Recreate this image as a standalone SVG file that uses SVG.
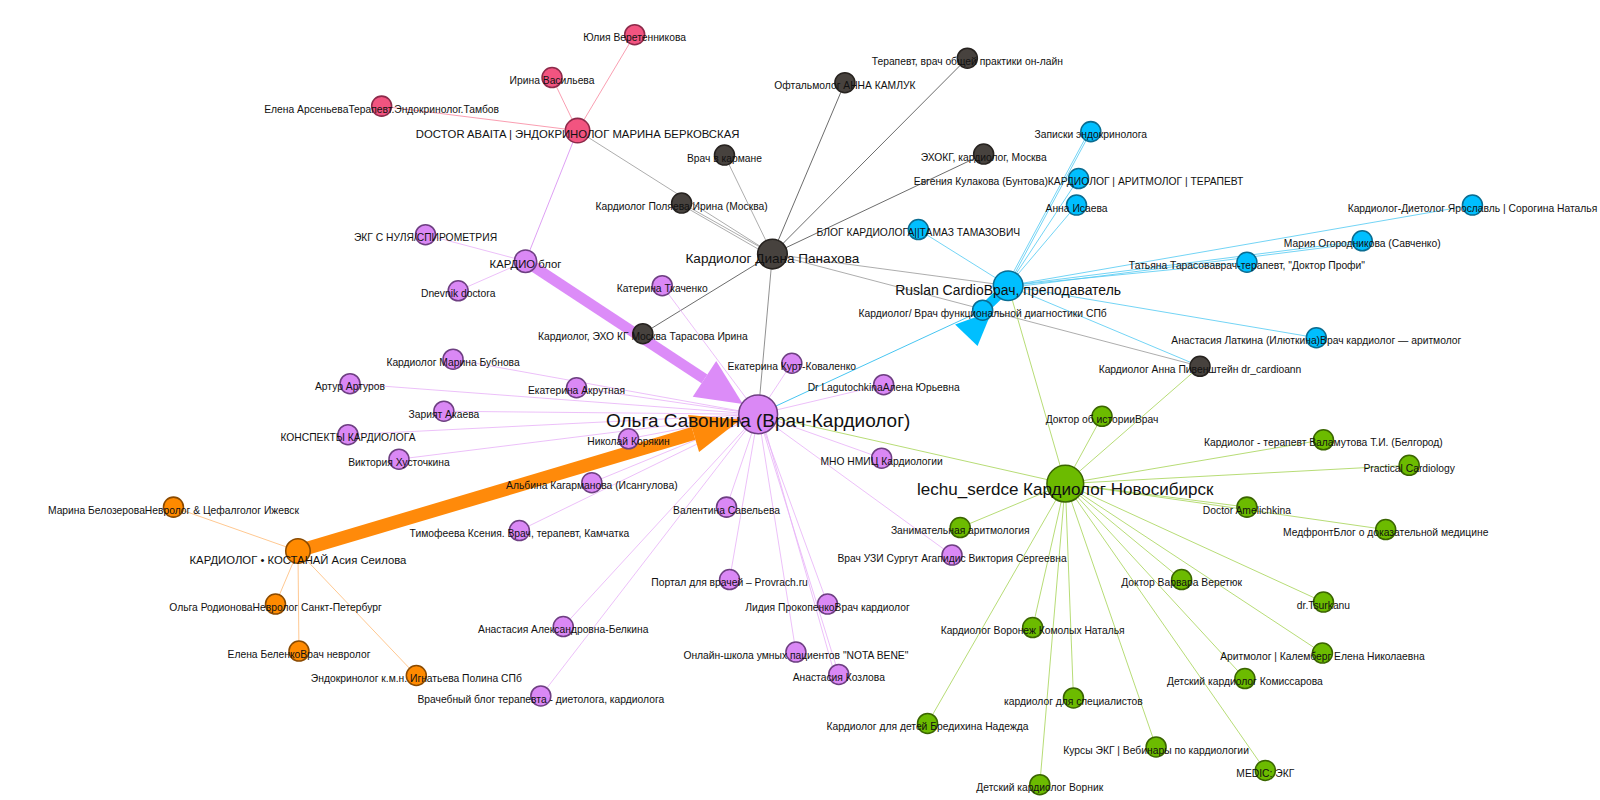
<svg xmlns="http://www.w3.org/2000/svg" width="1600" height="800" viewBox="0 0 1600 800">
<style>
.e{fill:none;stroke-width:0.8}
.ep{stroke:#f7879f}
.eg{stroke:#9a9a9a}
.ed{stroke:#4a4a4a}
.ec{stroke:#52caf3}
.ev{stroke:#e8b2f8}
.en{stroke:#a6d456}
.eo{stroke:#ffbb77}
circle{stroke-width:1.5}
.np{fill:#f25480;stroke:#8c2a4a}
.nd{fill:#47423e;stroke:#26221f}
.nc{fill:#00bfff;stroke:#0a6c91}
.nv{fill:#da88f5;stroke:#6e3f82}
.ng{fill:#6cbb00;stroke:#3a6500}
.no{fill:#ff8a00;stroke:#8a4a00}
text{font-family:"Liberation Sans",Arial,sans-serif;fill:#111;text-anchor:middle}
.s{font-size:10.1px}
.m{font-size:11.1px}
</style>
<rect width="1600" height="800" fill="#ffffff"/>
<g transform="scale(1.0204)">
<g id="connectors">
<line class="e ep" x1="622" y1="34" x2="566" y2="128"/>
<line class="e ep" x1="541" y1="76" x2="566" y2="128"/>
<line class="e ep" x1="374" y1="104" x2="566" y2="128"/>
<line class="e" stroke="#d68af2" x1="566" y1="128" x2="515" y2="256"/>
<line class="e eg" x1="566" y1="128" x2="757" y2="249"/>
<line class="e eg" x1="710" y1="152" x2="757" y2="249"/>
<line class="e eg" x1="668" y1="199" x2="757" y2="249"/>
<line class="e eg" x1="670" y1="202" x2="755" y2="251"/>
<line class="e ed" x1="828" y1="81" x2="757" y2="249"/>
<line class="e ed" x1="948" y1="57" x2="757" y2="249"/>
<line class="e ed" x1="964" y1="151" x2="757" y2="249"/>
<line class="e ed" x1="630" y1="327" x2="757" y2="249"/>
<line class="e" stroke="#777" x1="757" y1="249" x2="743" y2="406"/>
<line class="e eg" x1="757" y1="249" x2="988" y2="280"/>
<line class="e eg" x1="757" y1="249" x2="1176" y2="359"/>
<line class="e ec" x1="988" y1="280" x2="1069" y2="129"/>
<line class="e ec" x1="986" y1="280" x2="1066" y2="131"/>
<line class="e ec" x1="988" y1="280" x2="1057" y2="175"/>
<line class="e ec" x1="988" y1="280" x2="1055" y2="201"/>
<line class="e ec" x1="988" y1="280" x2="900" y2="225"/>
<line class="e ec" x1="988" y1="280" x2="1443" y2="201"/>
<line class="e ec" x1="988" y1="280" x2="1335" y2="236"/>
<line class="e ec" x1="988" y1="282" x2="1335" y2="238"/>
<line class="e ec" x1="988" y1="280" x2="1222" y2="257"/>
<line class="e ec" x1="988" y1="280" x2="1290" y2="331"/>
<line class="e ec" x1="988" y1="280" x2="1176" y2="359"/>
<line class="e" stroke="#1cb8ee" x1="963" y1="304" x2="743" y2="406"/>
<line class="e ev" x1="515" y1="256" x2="417" y2="230"/>
<line class="e ev" x1="515" y1="256" x2="449" y2="285"/>
<line class="e ev" x1="649" y1="280" x2="743" y2="406"/>
<line class="e ev" x1="444" y1="352" x2="743" y2="406"/>
<line class="e ev" x1="343" y1="376" x2="743" y2="406"/>
<line class="e ev" x1="565" y1="380" x2="743" y2="406"/>
<line class="e ev" x1="435" y1="403" x2="743" y2="406"/>
<line class="e ev" x1="341" y1="426" x2="743" y2="406"/>
<line class="e ev" x1="391" y1="450" x2="743" y2="406"/>
<line class="e ev" x1="616" y1="430" x2="743" y2="406"/>
<line class="e ev" x1="580" y1="473" x2="743" y2="406"/>
<line class="e ev" x1="712" y1="497" x2="743" y2="406"/>
<line class="e ev" x1="509" y1="520" x2="743" y2="406"/>
<line class="e ev" x1="715" y1="568" x2="743" y2="406"/>
<line class="e ev" x1="811" y1="592" x2="743" y2="406"/>
<line class="e ev" x1="552" y1="614" x2="743" y2="406"/>
<line class="e ev" x1="780" y1="639" x2="743" y2="406"/>
<line class="e ev" x1="822" y1="661" x2="743" y2="406"/>
<line class="e ev" x1="818" y1="661" x2="746" y2="407"/>
<line class="e ev" x1="530" y1="682" x2="743" y2="406"/>
<line class="e ev" x1="776" y1="356" x2="743" y2="406"/>
<line class="e ev" x1="866" y1="377" x2="743" y2="406"/>
<line class="e ev" x1="864" y1="449" x2="743" y2="406"/>
<line class="e ev" x1="933" y1="544" x2="743" y2="406"/>
<line class="e eo" x1="292" y1="540" x2="170" y2="497"/>
<line class="e eo" x1="292" y1="540" x2="270" y2="592"/>
<line class="e eo" x1="292" y1="540" x2="293" y2="638"/>
<line class="e eo" x1="292" y1="540" x2="408" y2="662"/>
<line class="e en" x1="743" y1="406" x2="1044" y2="474"/>
<line class="e en" x1="988" y1="280" x2="1044" y2="474"/>
<line class="e en" x1="1176" y1="359" x2="1044" y2="474"/>
<line class="e en" x1="1044" y1="474" x2="1080" y2="408"/>
<line class="e en" x1="1044" y1="474" x2="1297" y2="431"/>
<line class="e en" x1="1044" y1="474" x2="1381" y2="456"/>
<line class="e en" x1="1044" y1="474" x2="1222" y2="497"/>
<line class="e en" x1="1044" y1="474" x2="1358" y2="519"/>
<line class="e en" x1="1044" y1="474" x2="941" y2="517"/>
<line class="e en" x1="1044" y1="474" x2="1158" y2="568"/>
<line class="e en" x1="1044" y1="474" x2="1297" y2="590"/>
<line class="e en" x1="1044" y1="474" x2="1012" y2="615"/>
<line class="e en" x1="1044" y1="474" x2="1296" y2="640"/>
<line class="e en" x1="1044" y1="474" x2="1220" y2="665"/>
<line class="e en" x1="1044" y1="474" x2="1052" y2="684"/>
<line class="e en" x1="1044" y1="474" x2="909" y2="709"/>
<line class="e en" x1="1044" y1="474" x2="1133" y2="732"/>
<line class="e en" x1="1044" y1="474" x2="1240" y2="755"/>
<line class="e en" x1="1044" y1="474" x2="1019" y2="769"/>
<line stroke="#dc8cf8" stroke-width="10.5" x1="515" y1="256" x2="690.4" y2="371.3"/>
<polygon fill="#dc8cf8" points="678.9,388.8 701.9,353.8 728,396"/>
<line stroke="#ff8a0a" stroke-width="13" x1="292" y1="540" x2="679.7" y2="424.8"/>
<polygon fill="#ff8a0a" points="674.3,406.6 685.1,443 725.7,411.1"/>
<line stroke="#00bfff" stroke-width="9.8" x1="988" y1="280" x2="963" y2="304"/>
<polygon fill="#00bfff" points="936,318 972,305 958,339"/>
</g>
<g id="n-yulia"><circle class="np" cx="622" cy="34" r="9.8"/><text class="s" x="622" y="40.5">Юлия Веретенникова</text></g>
<g id="n-irina"><circle class="np" cx="541" cy="76" r="9.8"/><text class="s" x="541" y="82.5">Ирина Васильева</text></g>
<g id="n-arsenyeva"><circle class="np" cx="374" cy="104" r="9.8"/><text class="s" x="374" y="110.5">Елена АрсеньеваТерапевт.Эндокринолог.Тамбов</text></g>
<g id="n-abaita"><circle class="np" cx="566" cy="128" r="12" stroke-width="2"/><text class="m" x="566" y="135">DOCTOR ABAITA | ЭНДОКРИНОЛОГ МАРИНА БЕРКОВСКАЯ</text></g>
<g id="n-terapevt"><circle class="nd" cx="948" cy="57" r="9.8"/><text class="s" x="948" y="63.5">Терапевт, врач общей практики он-лайн</text></g>
<g id="n-kamluk"><circle class="nd" cx="828" cy="81" r="9.8"/><text class="s" x="828" y="87.5">Офтальмолог АННА КАМЛУК</text></g>
<g id="n-karman"><circle class="nd" cx="710" cy="152" r="9.8"/><text class="s" x="710" y="158.5">Врач в кармане</text></g>
<g id="n-polyaeva"><circle class="nd" cx="668" cy="199" r="9.8"/><text class="s" x="668" y="205.5">Кардиолог Поляева Ирина (Москва)</text></g>
<g id="n-echokg"><circle class="nd" cx="964" cy="151" r="9.8"/><text class="s" x="964" y="157.5">ЭХОКГ, кардиолог, Москва</text></g>
<g id="n-tarasova"><circle class="nd" cx="630" cy="327" r="9.8"/><text class="s" x="630" y="333.5">Кардиолог, ЭХО КГ Москва Тарасова Ирина</text></g>
<g id="n-piven"><circle class="nd" cx="1176" cy="359" r="9.8"/><text class="s" x="1176" y="365.5">Кардиолог Анна Пивенштейн dr_cardioann</text></g>
<g id="n-zapiski"><circle class="nc" cx="1069" cy="129" r="9.8"/><text class="s" x="1069" y="135.5">Записки эндокринолога</text></g>
<g id="n-kulakova"><circle class="nc" cx="1057" cy="175" r="9.8"/><text class="s" x="1057" y="181.5">Евгения Кулакова (Бунтова)КАРДИОЛОГ | АРИТМОЛОГ | ТЕРАПЕВТ</text></g>
<g id="n-isaeva"><circle class="nc" cx="1055" cy="201" r="9.8"/><text class="s" x="1055" y="207.5">Анна Исаева</text></g>
<g id="n-tamaz"><circle class="nc" cx="900" cy="225" r="9.8"/><text class="s" x="900" y="231.5">БЛОГ КАРДИОЛОГА||ТАМАЗ ТАМАЗОВИЧ</text></g>
<g id="n-sorogina"><circle class="nc" cx="1443" cy="201" r="9.8"/><text class="s" x="1443" y="207.5">Кардиолог-Диетолог Ярославль | Сорогина Наталья</text></g>
<g id="n-ogorodnikova"><circle class="nc" cx="1335" cy="236" r="9.8"/><text class="s" x="1335" y="242.5">Мария Огородникова (Савченко)</text></g>
<g id="n-tatyana"><circle class="nc" cx="1222" cy="257" r="9.8"/><text class="s" x="1222" y="263.5">Татьяна Тарасоваврач-терапевт, "Доктор Профи"</text></g>
<g id="n-latkina"><circle class="nc" cx="1290" cy="331" r="9.8"/><text class="s" x="1290" y="337.5">Анастасия Латкина (Илюткина)Врач кардиолог — аритмолог</text></g>
<g id="n-funkdiag"><circle class="nc" cx="963" cy="304" r="9.8"/><text class="s" x="963" y="310.5">Кардиолог/ Врач функциональной диагностики СПб</text></g>
<g id="n-ruslan"><circle class="nc" cx="988" cy="280" r="14.5" stroke-width="2.2"/><text x="988" y="289" font-size="13.7">Ruslan CardioВрач, преподаватель</text></g>
<g id="n-diana"><circle class="nd" cx="757" cy="249" r="14.5" stroke-width="2"/><text x="757" y="258" font-size="13.3">Кардиолог Диана Панахова</text></g>
<g id="n-ekgsnulya"><circle class="nv" cx="417" cy="230" r="9.8"/><text class="s" x="417" y="236.5">ЭКГ С НУЛЯ/СПИРОМЕТРИЯ</text></g>
<g id="n-kardioblog"><circle class="nv" cx="515" cy="256" r="11" stroke-width="1.8"/><text class="m" x="515" y="263">КАРДИО блог</text></g>
<g id="n-dnevnik"><circle class="nv" cx="449" cy="285" r="9.8"/><text class="s" x="449" y="291.5">Dnevnik doctora</text></g>
<g id="n-tkachenko"><circle class="nv" cx="649" cy="280" r="9.8"/><text class="s" x="649" y="286.5">Катерина Ткаченко</text></g>
<g id="n-bubnova"><circle class="nv" cx="444" cy="352" r="9.8"/><text class="s" x="444" y="358.5">Кардиолог Марина Бубнова</text></g>
<g id="n-arturov"><circle class="nv" cx="343" cy="376" r="9.8"/><text class="s" x="343" y="382.5">Артур Артуров</text></g>
<g id="n-akrutnaya"><circle class="nv" cx="565" cy="380" r="9.8"/><text class="s" x="565" y="386.5">Екатерина Акрутная</text></g>
<g id="n-akaeva"><circle class="nv" cx="435" cy="403" r="9.8"/><text class="s" x="435" y="409.5">Зарият Акаева</text></g>
<g id="n-konspekty"><circle class="nv" cx="341" cy="426" r="9.8"/><text class="s" x="341" y="432.5">КОНСПЕКТЫ КАРДИОЛОГА</text></g>
<g id="n-khustochkina"><circle class="nv" cx="391" cy="450" r="9.8"/><text class="s" x="391" y="456.5">Виктория Хусточкина</text></g>
<g id="n-koryakin"><circle class="nv" cx="616" cy="430" r="9.8"/><text class="s" x="616" y="436.5">Николай Корякин</text></g>
<g id="n-kagarmanova"><circle class="nv" cx="580" cy="473" r="9.8"/><text class="s" x="580" y="479.5">Альбина Кагарманова (Исангулова)</text></g>
<g id="n-savelyeva"><circle class="nv" cx="712" cy="497" r="9.8"/><text class="s" x="712" y="503.5">Валентина Савельева</text></g>
<g id="n-timofeeva"><circle class="nv" cx="509" cy="520" r="9.8"/><text class="s" x="509" y="526.5">Тимофеева Ксения. Врач, терапевт, Камчатка</text></g>
<g id="n-provrach"><circle class="nv" cx="715" cy="568" r="9.8"/><text class="s" x="715" y="574.5">Портал для врачей – Provrach.ru</text></g>
<g id="n-prokopenko"><circle class="nv" cx="811" cy="592" r="9.8"/><text class="s" x="811" y="598.5">Лидия ПрокопенкоВрач кардиолог</text></g>
<g id="n-belkina"><circle class="nv" cx="552" cy="614" r="9.8"/><text class="s" x="552" y="620.5">Анастасия Александровна-Белкина</text></g>
<g id="n-notabene"><circle class="nv" cx="780" cy="639" r="9.8"/><text class="s" x="780" y="645.5">Онлайн-школа умных пациентов "NOTA BENE"</text></g>
<g id="n-kozlova"><circle class="nv" cx="822" cy="661" r="9.8"/><text class="s" x="822" y="667.5">Анастасия Козлова</text></g>
<g id="n-vrachblog"><circle class="nv" cx="530" cy="682" r="9.8"/><text class="s" x="530" y="688.5">Врачебный блог терапевта - диетолога, кардиолога</text></g>
<g id="n-kurt"><circle class="nv" cx="776" cy="356" r="9.8"/><text class="s" x="776" y="362.5">Екатерина Курт-Коваленко</text></g>
<g id="n-lagutochkina"><circle class="nv" cx="866" cy="377" r="9.8"/><text class="s" x="866" y="383.5">Dr LagutochkinaАлена Юрьевна</text></g>
<g id="n-mno"><circle class="nv" cx="864" cy="449" r="9.8"/><text class="s" x="864" y="455.5">МНО НМИЦ Кардиологии</text></g>
<g id="n-agapidis"><circle class="nv" cx="933" cy="544" r="9.8"/><text class="s" x="933" y="550.5">Врач УЗИ Сургут Агапидис Виктория Сергеевна</text></g>
<g id="n-belozerova"><circle class="no" cx="170" cy="497" r="9.8"/><text class="s" x="170" y="503.5">Марина БелозероваНевролог &amp; Цефалголог Ижевск</text></g>
<g id="n-rodionova"><circle class="no" cx="270" cy="592" r="9.8"/><text class="s" x="270" y="598.5">Ольга РодионоваНевролог Санкт-Петербург</text></g>
<g id="n-belenko"><circle class="no" cx="293" cy="638" r="9.8"/><text class="s" x="293" y="644.5">Елена БеленкоВрач невролог</text></g>
<g id="n-ignatyeva"><circle class="no" cx="408" cy="662" r="9.8"/><text class="s" x="408" y="668.5">Эндокринолог к.м.н. Игнатьева Полина СПб</text></g>
<g id="n-kostanay"><circle class="no" cx="292" cy="540" r="12" stroke-width="2"/><text class="m" x="292" y="553">КАРДИОЛОГ • КОСТАНАЙ Асия Сеилова</text></g>
<g id="n-istorii"><circle class="ng" cx="1080" cy="408" r="9.8"/><text class="s" x="1080" y="414.5">Доктор об историиВрач</text></g>
<g id="n-valamutova"><circle class="ng" cx="1297" cy="431" r="9.8"/><text class="s" x="1297" y="437.5">Кардиолог - терапевт Валамутова Т.И. (Белгород)</text></g>
<g id="n-practical"><circle class="ng" cx="1381" cy="456" r="9.8"/><text class="s" x="1381" y="462.5">Practical Cardiology</text></g>
<g id="n-amelichkina"><circle class="ng" cx="1222" cy="497" r="9.8"/><text class="s" x="1222" y="503.5">Doctor Amelichkina</text></g>
<g id="n-medfront"><circle class="ng" cx="1358" cy="519" r="9.8"/><text class="s" x="1358" y="525.5">МедфронтБлог о доказательной медицине</text></g>
<g id="n-zanimatelnaya"><circle class="ng" cx="941" cy="517" r="9.8"/><text class="s" x="941" y="523.5">Занимательная аритмология</text></g>
<g id="n-veretyuk"><circle class="ng" cx="1158" cy="568" r="9.8"/><text class="s" x="1158" y="574.5">Доктор Варвара Веретюк</text></g>
<g id="n-tsurkanu"><circle class="ng" cx="1297" cy="590" r="9.8"/><text class="s" x="1297" y="596.5">dr.Tsurkanu</text></g>
<g id="n-komolykh"><circle class="ng" cx="1012" cy="615" r="9.8"/><text class="s" x="1012" y="621.5">Кардиолог Воронеж Комолых Наталья</text></g>
<g id="n-kalemberg"><circle class="ng" cx="1296" cy="640" r="9.8"/><text class="s" x="1296" y="646.5">Аритмолог | Калемберг Елена Николаевна</text></g>
<g id="n-komissarova"><circle class="ng" cx="1220" cy="665" r="9.8"/><text class="s" x="1220" y="671.5">Детский кардиолог Комиссарова</text></g>
<g id="n-specialistov"><circle class="ng" cx="1052" cy="684" r="9.8"/><text class="s" x="1052" y="690.5">кардиолог для специалистов</text></g>
<g id="n-bredikhina"><circle class="ng" cx="909" cy="709" r="9.8"/><text class="s" x="909" y="715.5">Кардиолог для детей Бредихина Надежда</text></g>
<g id="n-kursy"><circle class="ng" cx="1133" cy="732" r="9.8"/><text class="s" x="1133" y="738.5">Курсы ЭКГ | Вебинары по кардиологии</text></g>
<g id="n-medic"><circle class="ng" cx="1240" cy="755" r="9.8"/><text class="s" x="1240" y="761.5">MEDIC: ЭКГ</text></g>
<g id="n-vornik"><circle class="ng" cx="1019" cy="769" r="9.8"/><text class="s" x="1019" y="775.5">Детский кардиолог Ворник</text></g>
<g id="n-lechu"><circle class="ng" cx="1044" cy="474" r="18" stroke-width="3"/><text x="1044" y="485" font-size="16.7">lechu_serdce Кардиолог Новосибирск</text></g>
<g id="n-savonina"><circle class="nv" cx="743" cy="406" r="19" stroke-width="3"/><text x="743" y="418" font-size="18.6">Ольга Савонина (Врач-Кардиолог)</text></g>
</g>
</svg>
